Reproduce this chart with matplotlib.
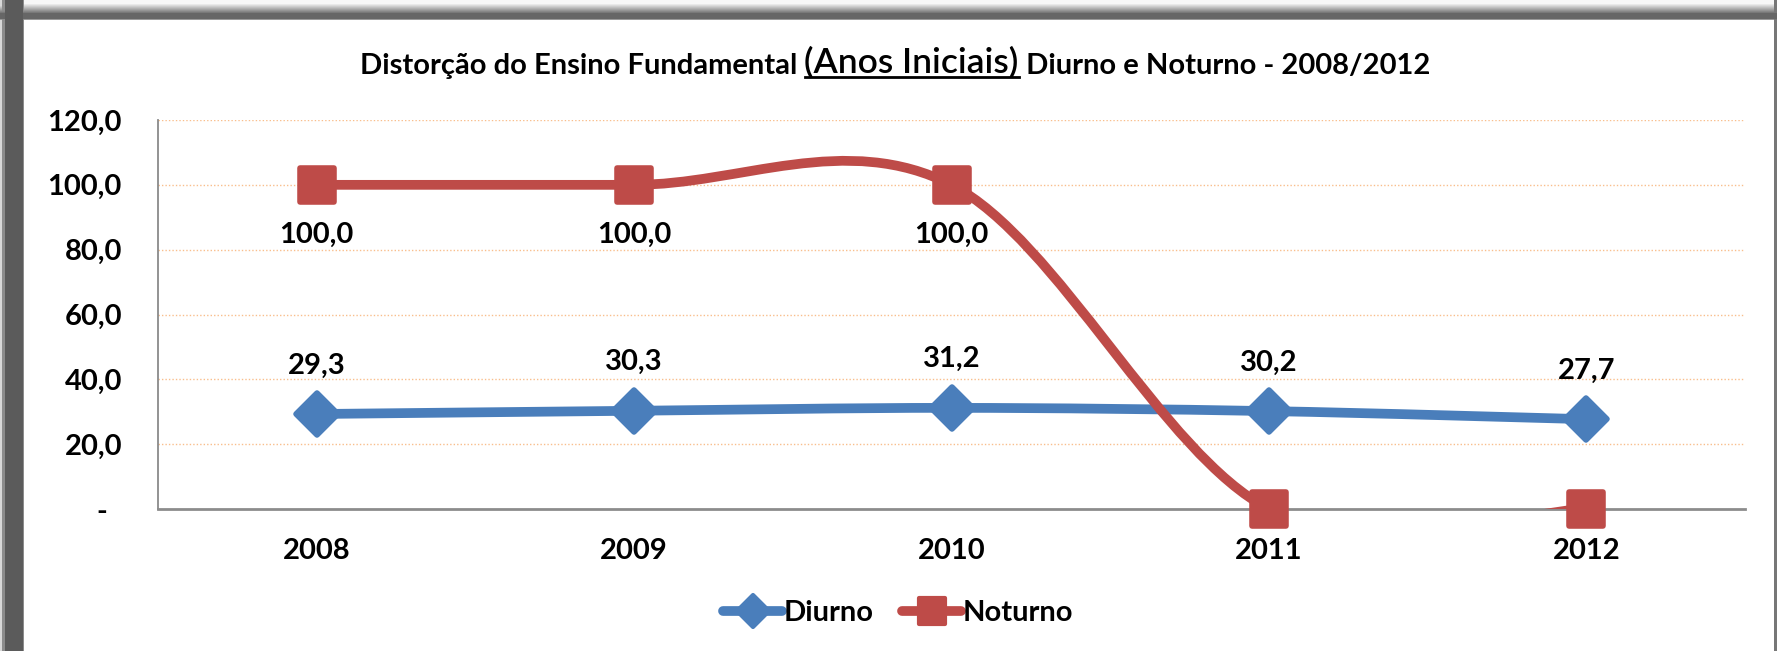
import numpy as np
import matplotlib
matplotlib.use('Agg')
import matplotlib.pyplot as plt
from matplotlib.path import Path
from matplotlib.patches import PathPatch
from matplotlib.lines import Line2D
from matplotlib.markers import MarkerStyle
from matplotlib.ticker import FuncFormatter

plt.rcParams['font.family'] = ['Lato', 'DejaVu Sans']

years = ['2008', '2009', '2010', '2011', '2012']
diurno = [29.3, 30.3, 31.2, 30.2, 27.7]
noturno = [100.0, 100.0, 100.0, 0.0, 0.0]
noturno_labels = ['100,0', '100,0', '100,0', '', '']

BLUE = '#4A7EBB'
RED = '#BE4B48'
W, H = 1777, 651
FS = 21


def smooth_path(xs, ys):
    # excel-like smoothed line: cubic bezier, control points from neighbours
    pts = np.column_stack([xs, ys]).astype(float)
    n = len(pts)
    verts = [pts[0]]
    codes = [Path.MOVETO]
    for i in range(n - 1):
        p0 = pts[i - 1] if i > 0 else pts[i]
        p1 = pts[i]
        p2 = pts[i + 1]
        p3 = pts[i + 2] if i + 2 < n else pts[i + 1]
        c1 = p1 + (p2 - p0) / 6.0
        c2 = p2 - (p3 - p1) / 6.0
        verts += [c1, c2, p2]
        codes += [Path.CURVE4] * 3
    return Path(verts, codes)


fig = plt.figure(figsize=(W / 100, H / 100), dpi=100)

# frame with shadow
img = np.ones((H, W, 3))
left = np.ones(W)
for x in range(26):
    if x < 2:
        v = 0.85
    elif x < 5:
        v = 0.55
    elif x < 23:
        v = 0.36
    elif x < 24:
        v = 0.55
    else:
        v = 1.0
    left[x] = v
top = np.ones(H)
for y in range(21):
    if y < 3:
        v = 0.97
    elif y < 13:
        v = 0.97 - (y - 3) * 0.055
    elif y < 19:
        v = 0.40
    elif y < 20:
        v = 0.6
    else:
        v = 1.0
    top[y] = v
shade = np.minimum(left[None, :], top[:, None])
shade[:, W - 3:] = np.minimum(shade[:, W - 3:], 0.47)
img *= shade[:, :, None]
fig.figimage(img, xo=0, yo=0, origin='upper', zorder=-10)

ax = fig.add_axes([158 / W, 1 - 509 / H, (1745 - 158) / W, (509 - 120) / H])
ax.set_facecolor('none')
ax.set_zorder(2)
x = np.arange(len(years))

ax.set_xlim(-0.5, 4.5)
ax.set_ylim(0, 120)
ax.set_yticks(np.arange(0, 121, 20))
ax.yaxis.set_major_formatter(FuncFormatter(
    lambda v, p: '-  ' if v == 0 else f'{v:.1f}'.replace('.', ',')))
ax.set_xticks(x)
ax.set_xticklabels(years)
ax.tick_params(axis='both', length=0, labelsize=FS)
ax.tick_params(axis='y', pad=26)
ax.tick_params(axis='x', pad=21)
for lab in ax.get_xticklabels() + ax.get_yticklabels():
    lab.set_fontweight('bold')

for v in np.arange(20, 121, 20):
    ax.axhline(v, color='#F9BE8C', lw=1.0, ls=(0, (1, 1.5)), zorder=1)

for s in ['top', 'right']:
    ax.spines[s].set_visible(False)
ax.spines['left'].set_color('#8A8A8A')
ax.spines['left'].set_linewidth(1.3)
ax.spines['bottom'].set_color('#8C8C8C')
ax.spines['bottom'].set_linewidth(2)

diamond = MarkerStyle('D', joinstyle='round')
square = MarkerStyle('s', joinstyle='round')

ax.add_patch(PathPatch(smooth_path(x, diurno), facecolor='none', edgecolor=BLUE,
                       lw=7, capstyle='round', joinstyle='round', zorder=3))
ax.plot(x, diurno, ls='none', marker=diamond, ms=21, color=BLUE, mec=BLUE,
        mew=4, zorder=4, clip_on=False)
ax.add_patch(PathPatch(smooth_path(x, noturno), facecolor='none', edgecolor=RED,
                       lw=7, capstyle='round', joinstyle='round', zorder=5))
ax.plot(x, noturno, ls='none', marker=square, ms=25, color=RED, mec=RED, mew=4,
        mfc=RED, zorder=6, clip_on=False)

for xi, v in zip(x, diurno):
    ax.annotate(f'{v:.1f}'.replace('.', ','), (xi, v), xytext=(0, 35),
                textcoords='offset points', ha='center', va='center',
                fontsize=FS, fontweight='bold', zorder=7)
for xi, v, t in zip(x, noturno, noturno_labels):
    if t:
        ax.annotate(t, (xi, v), xytext=(0, -36), textcoords='offset points',
                    ha='center', va='center', fontsize=FS, fontweight='bold',
                    zorder=7)

# title in three parts, middle one bigger and underlined
t1 = fig.text(360 / W, 1 - 74 / H, 'Distorção do Ensino Fundamental ',
              fontsize=21, fontweight='bold', va='baseline')
fig.canvas.draw()
t2 = ax.annotate('(Anos Iniciais)', xy=(1, 0), xycoords=t1, fontsize=25.5,
                 fontweight='semibold', va='bottom', ha='left',
                 annotation_clip=False)
t3 = ax.annotate(' Diurno e Noturno - 2008/2012', xy=(1, 0), xycoords=t2,
                 fontsize=21, fontweight='bold', va='bottom', ha='left',
                 annotation_clip=False)

handles = [Line2D([], [], color=BLUE, lw=7, marker=diamond, ms=16, mew=3,
                  solid_capstyle='round'),
           Line2D([], [], color=RED, lw=7, marker=square, ms=19, mew=3,
                  solid_capstyle='round')]
fig.legend(handles, ['Diurno', 'Noturno'], loc='center',
           bbox_to_anchor=(898 / W, 1 - 613 / H), ncol=2, frameon=False,
           prop={'size': FS, 'weight': 'bold'}, handlelength=2.0,
           handletextpad=0.05, columnspacing=1.0)

fig.canvas.draw()
r = fig.canvas.get_renderer()
bb = t2.get_window_extent(r)
uy = bb.y0 + 2
fig.add_artist(Line2D([bb.x0 / W, bb.x1 / W], [uy / H, uy / H],
                      color='black', lw=2, transform=fig.transFigure))

fig.savefig('out.png', dpi=100)
